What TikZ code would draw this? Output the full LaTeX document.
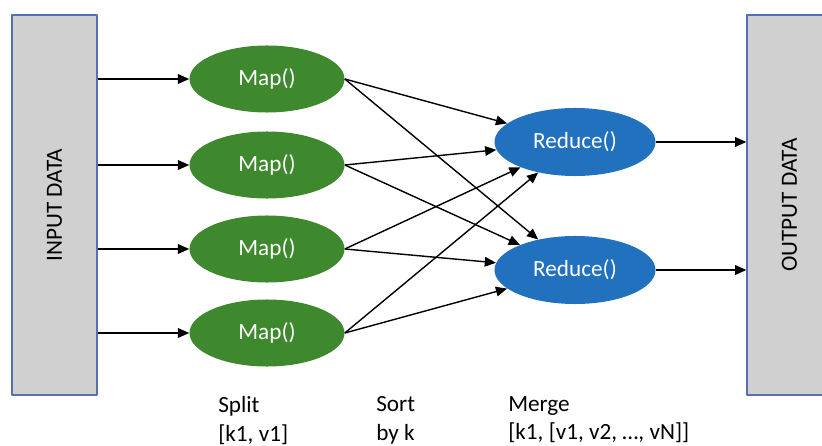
\documentclass[tikz,border=0pt]{standalone}
\usepackage{fontspec}
\setmainfont{Carlito}
\usetikzlibrary{shapes.geometric,arrows.meta}
\definecolor{mapgreen}{RGB}{62,136,46}
\definecolor{redblue}{RGB}{34,113,190}
\definecolor{boxgray}{RGB}{208,208,208}
\definecolor{boxline}{RGB}{86,110,178}
\begin{document}
\begin{tikzpicture}[x=0.025cm, y=-0.025cm, font=\fontsize{16.5}{20.5}\selectfont, line join=round, >={Triangle[length=2.8mm,width=2.4mm]},
	mapnode/.style={ellipse, fill=mapgreen, text=white, minimum width=3.875cm, minimum height=1.675cm, inner sep=0pt},
	rednode/.style={ellipse, fill=redblue, text=white, minimum width=4.025cm, minimum height=1.7cm, inner sep=0pt},
	databox/.style={rectangle, draw=boxline, fill=boxgray, line width=0.9pt, minimum width=2.125cm, minimum height=9.5cm},
	link/.style={->, line width=1pt},
	caption/.style={anchor=north west, align=left, inner sep=0pt}]
	% Khung ảnh
	\clip (0,0) rectangle (822,446);
	% Hai khối dữ liệu
	\node[databox] (in) at (54.5,205) {\rotatebox{90}{INPUT DATA}};
	\node[databox] (out) at (789.5,205) {\rotatebox{90}{OUTPUT DATA}};
	% Các nút Map
	\node[mapnode] (map1) at (267,79) {Map()};
	\node[mapnode] (map2) at (267,165) {Map()};
	\node[mapnode] (map3) at (267,249) {Map()};
	\node[mapnode] (map4) at (267,333) {Map()};
	% Các nút Reduce
	\node[rednode] (red1) at (575,142) {Reduce()};
	\node[rednode] (red2) at (575,270) {Reduce()};
	% Mũi tên vào Map
	\draw[link] (in.east |- map1) -- (map1);
	\draw[link] (in.east |- map2) -- (map2);
	\draw[link] (in.east |- map3) -- (map3);
	\draw[link] (in.east |- map4) -- (map4);
	% Nối Map với Reduce
	\draw[link] (map1.east) -- (red1);
	\draw[link] (map1.east) -- (red2);
	\draw[link] (map2.east) -- (red1);
	\draw[link] (map2.east) -- (red2);
	\draw[link] (map3.east) -- (red1);
	\draw[link] (map3.east) -- (red2);
	\draw[link] (map4.east) -- (red1);
	\draw[link] (map4.east) -- (red2);
	% Mũi tên ra
	\draw[link] (red1.east) -- (red1 -| out.west);
	\draw[link] (red2.east) -- (red2 -| out.west);
	% Chú thích các bước
	\node[caption] (split) at (218,396) {Split\\{}[k1, v1]};
	\node[caption] (sort) at (376,396) {Sort\\by k};
	\node[caption] (merge) at (508,396) {Merge\\{}[k1, [v1, v2, …, vN]]};
\end{tikzpicture}
\end{document}
